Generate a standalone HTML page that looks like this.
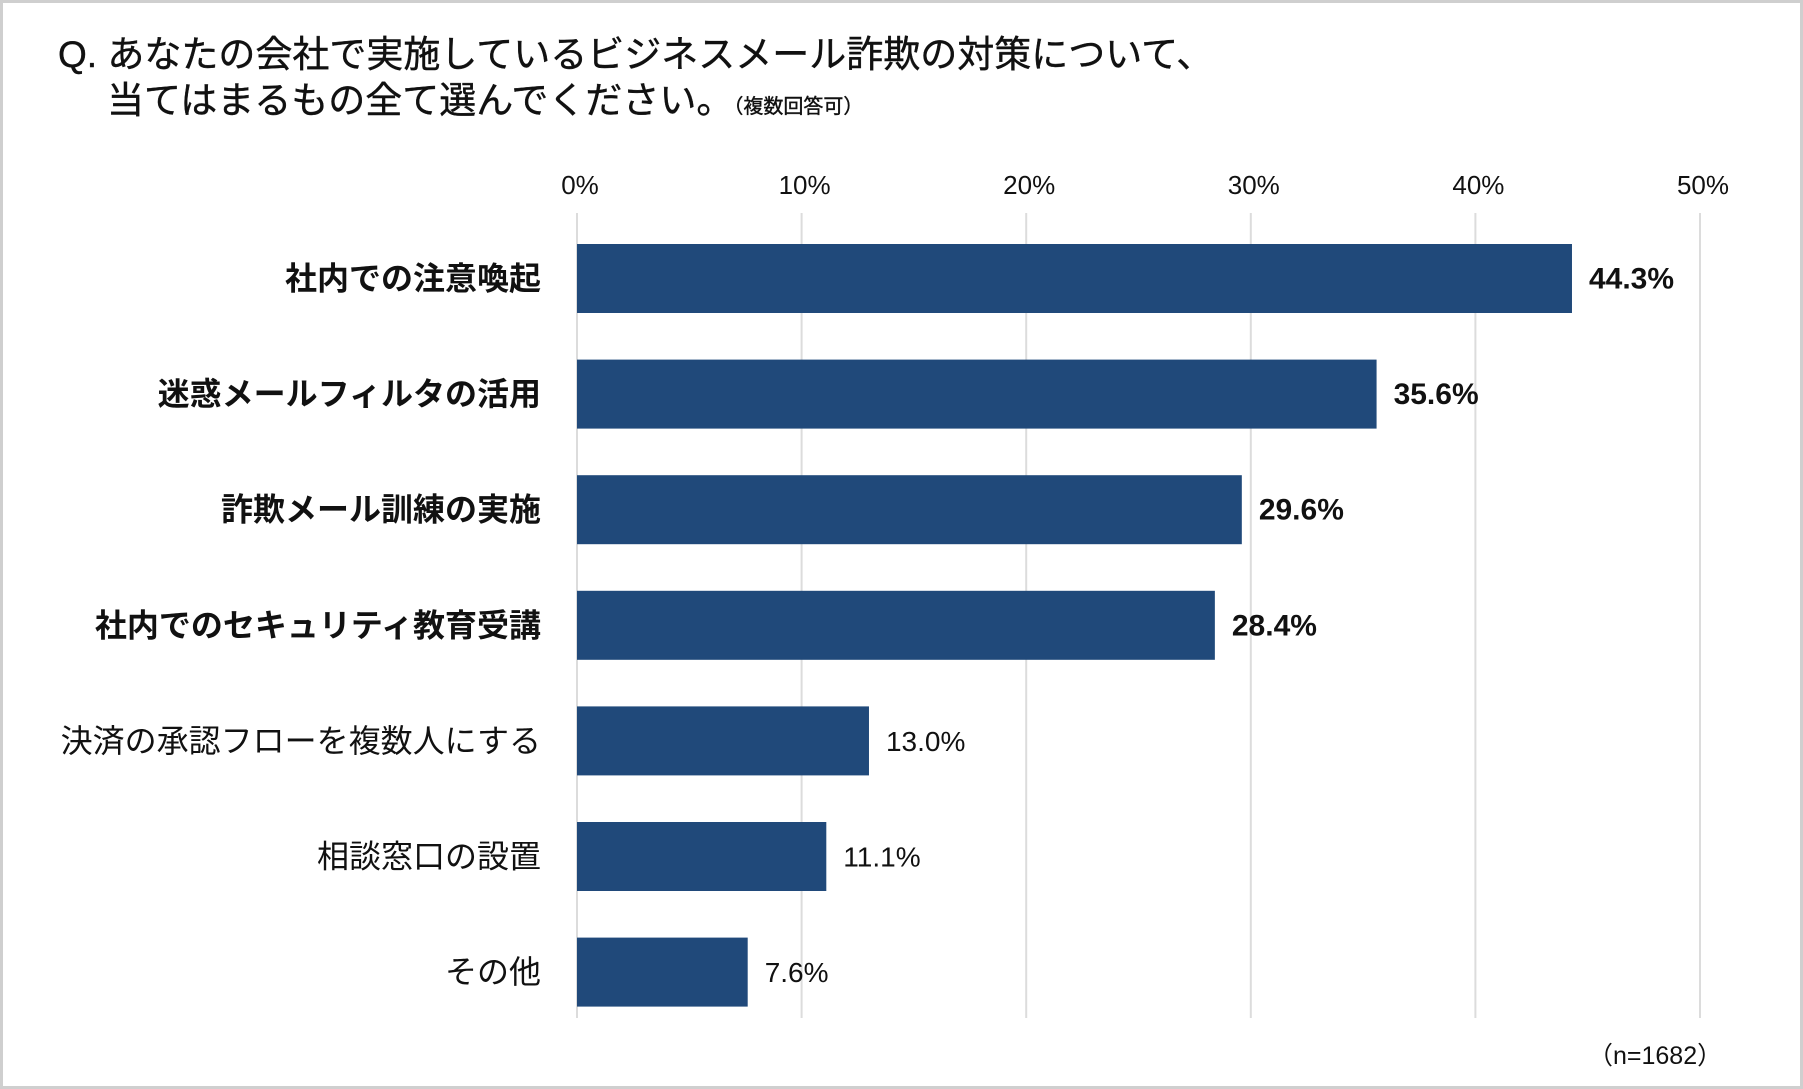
<!DOCTYPE html>
<html><head><meta charset="utf-8"><style>
body{margin:0;background:#fff}
#wrap{position:relative;width:1803px;height:1089px;box-sizing:border-box;border:3px solid #cfcfcf;background:#fff;font-family:"Liberation Sans","Noto Sans CJK JP",sans-serif;overflow:hidden}
.t{position:absolute;white-space:nowrap;color:#111}
</style></head><body>
<div id="wrap">
<div class="t" style="left:55px;top:21px;font-size:37px;-webkit-text-stroke:0.4px #111;">Q. あなたの会社で実施しているビジネスメール詐欺の対策について、</div>
<div class="t" style="left:104px;top:67px;font-size:37px;-webkit-text-stroke:0.4px #111;">当てはまるもの全て選んでください。<span style="font-size:20px;">（複数回答可）</span></div>
<svg id="chart" width="1803" height="1089" style="position:absolute;left:-3px;top:-3px"></svg>
<div class="t" style="left:1585px;top:1033px;font-size:25px;">（n=1682）</div>
</div>
<script>
const categories=["社内での注意喚起","迷惑メールフィルタの活用","詐欺メール訓練の実施","社内でのセキュリティ教育受講","決済の承認フローを複数人にする","相談窓口の設置","その他"];
const values=[44.3,35.6,29.6,28.4,13.0,11.1,7.6];
const bold=[true,true,true,true,false,false,false];
const ticks=[0,10,20,30,40,50];
const tickLabels=["0%","10%","20%","30%","40%","50%"];
const NS="http://www.w3.org/2000/svg";
const svg=document.getElementById("chart");
const X0=577,X1=1700,VMAX=50;
const x=v=>X0+(v/VMAX)*(X1-X0);
const BAND0=244,STEP=115.6,BH=69;
const y=i=>BAND0+i*STEP;
function mk(t,a){const e=document.createElementNS(NS,t);for(const k in a)e.setAttribute(k,a[k]);svg.appendChild(e);return e;}
ticks.forEach((t,i)=>{
  const g=mk("line",{x1:x(t),x2:x(t),y1:213,y2:1018,stroke:"#dcdcdc","stroke-width":2});
  
  
  const l=mk("text",{x:x(t)+3,y:194,"text-anchor":"middle","font-size":26,fill:"#111","font-family":"Liberation Sans, Noto Sans CJK JP, sans-serif"});
  l.textContent=tickLabels[i];
  
  
});
categories.forEach((c,i)=>{
  const r=mk("rect",{x:X0,y:y(i),width:x(values[i])-X0,height:BH,fill:"#20497a"});
  
  
  const fw=bold[i]?"bold":"normal";
  const cl=mk("text",{x:541,y:y(i)+BH/2+11,"text-anchor":"end","font-size":32,"font-weight":fw,fill:"#111","font-family":"Liberation Sans, Noto Sans CJK JP, sans-serif"});
  cl.textContent=c;
  
  
  const vl=mk("text",{x:x(values[i])+17,y:y(i)+BH/2+10,"font-size":bold[i]?30:28,"font-weight":fw,fill:"#111","font-family":"Liberation Sans, Noto Sans CJK JP, sans-serif"});
  vl.textContent=values[i].toFixed(1)+"%";
  
  
});
</script>
</body></html>
